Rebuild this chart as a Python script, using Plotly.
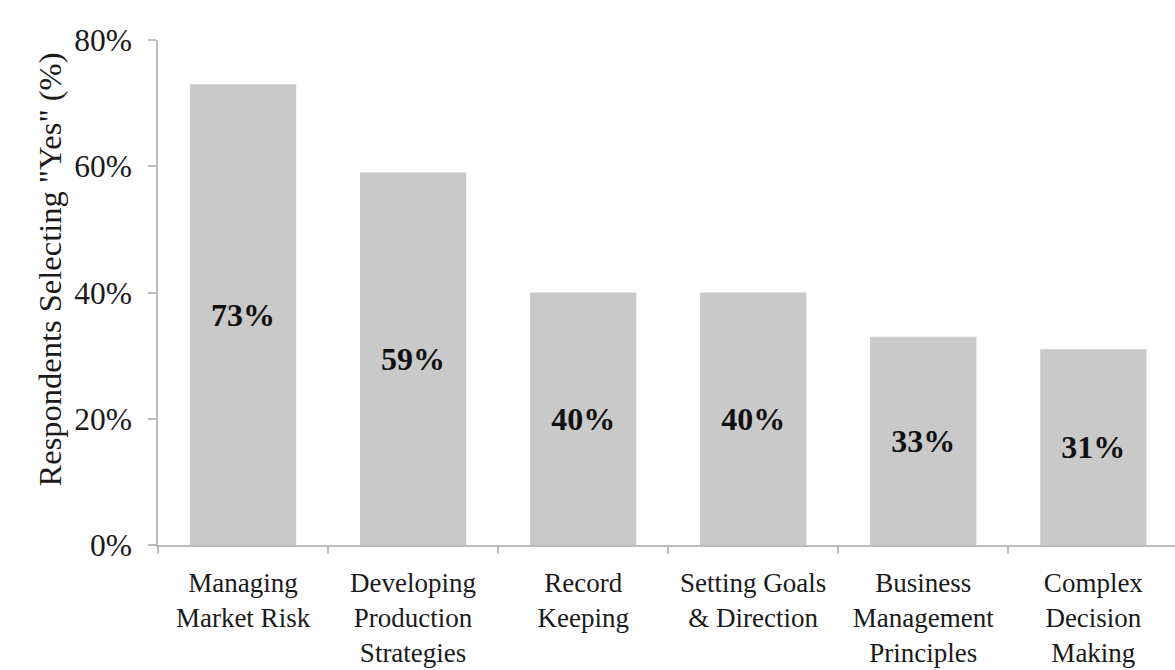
import plotly.graph_objects as go

# Survey topics and share of respondents answering "Yes"
categories = [
    "Managing<br>Market Risk",
    "Developing<br>Production<br>Strategies",
    "Record<br>Keeping",
    "Setting Goals<br>& Direction",
    "Business<br>Management<br>Principles",
    "Complex<br>Decision<br>Making",
]
values = [73, 59, 40, 40, 33, 31]
y_ticks = [0, 20, 40, 60, 80]
y_tick_labels = ["0%", "20%", "40%", "60%", "80%"]

SERIF = "Liberation Serif"
AXIS_GREY = "#bdbdbd"
TEXT = "#1a1a1a"

fig = go.Figure(
    go.Bar(
        x=categories,
        y=values,
        text=[f"{v}%" for v in values],
        marker=dict(color="#c9c9c9", line=dict(width=0)),
        textposition="inside",
        insidetextanchor="middle",
        constraintext="none",
        textfont=dict(family=SERIF, size=32, color="#111111", weight="bold"),
        hoverinfo="skip",
    )
)

fig.update_layout(
    width=1175,
    height=670,
    margin=dict(l=158, r=0, t=40, b=125),
    paper_bgcolor="white",
    plot_bgcolor="white",
    bargap=0.375,
    showlegend=False,
    font=dict(family=SERIF, color=TEXT),
)

fig.update_xaxes(
    range=[-0.5, 5.48],
    showline=True,
    linecolor=AXIS_GREY,
    linewidth=1.5,
    ticks="outside",
    tickson="boundaries",
    ticklen=7,
    tickcolor=AXIS_GREY,
    tickwidth=1.5,
    ticklabelstandoff=13,
    tickfont=dict(family=SERIF, size=27, color=TEXT),
    showgrid=False,
    zeroline=False,
    fixedrange=True,
)

fig.update_yaxes(
    range=[0, 80],
    tickvals=y_ticks,
    ticktext=y_tick_labels,
    showline=True,
    linecolor=AXIS_GREY,
    linewidth=1.5,
    ticks="outside",
    ticklen=8,
    tickcolor=AXIS_GREY,
    tickwidth=1.5,
    ticklabelstandoff=10,
    tickfont=dict(family=SERIF, size=31.5, color=TEXT),
    showgrid=False,
    zeroline=False,
    fixedrange=True,
)

fig.add_annotation(
    text='Respondents Selecting "Yes" (%)',
    xref="paper",
    yref="paper",
    x=-0.106,
    y=0.546,
    xanchor="center",
    yanchor="middle",
    textangle=-90,
    showarrow=False,
    font=dict(family=SERIF, size=32.5, color=TEXT),
)

fig.write_html("out.html")
